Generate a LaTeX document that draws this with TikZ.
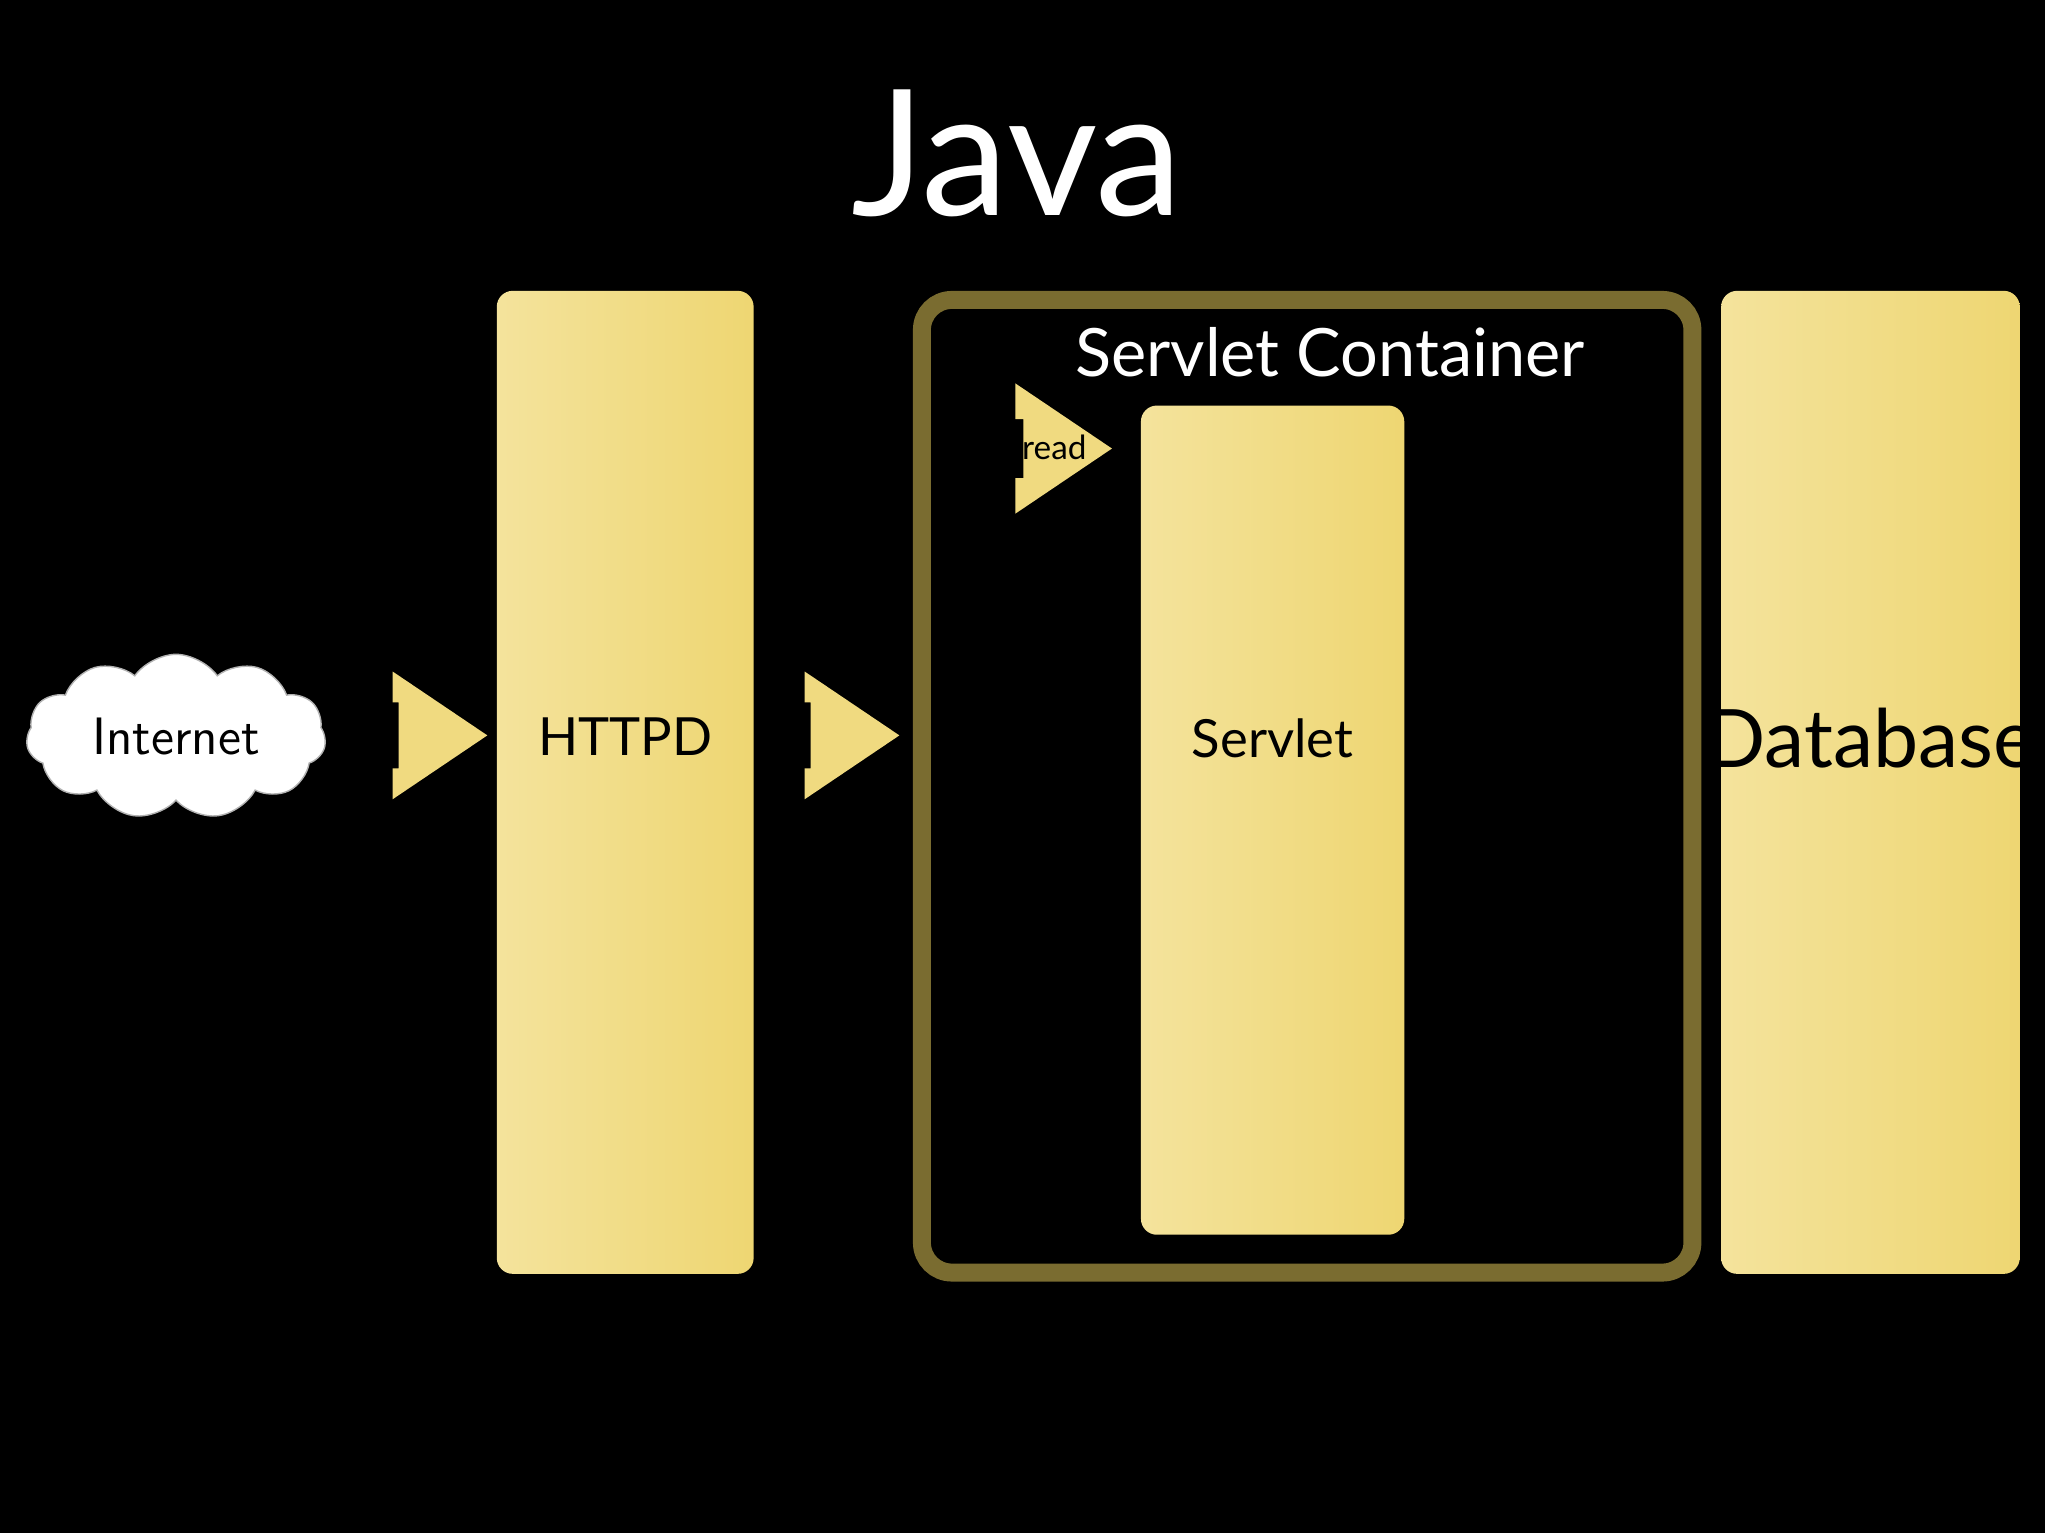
\documentclass[tikz,border=0pt]{standalone}
\usepackage{fontspec}
\setmainfont{Lato}
\usetikzlibrary{shapes.symbols,shapes.arrows}
\definecolor{boxlight}{HTML}{F4E39C}
\definecolor{boxdark}{HTML}{EED672}
\definecolor{olive}{HTML}{7A6C30}
\begin{document}
\begin{tikzpicture}[x=0.01306cm,y=-0.01306cm,
  tier/.style={rectangle,rounded corners=0.16cm,left color=boxlight,right color=boxdark,draw=none,text=black},
  flow/.style={single arrow,fill=boxdark!90!white,draw=none,inner sep=0pt,single arrow tip angle=68,shape border rotate=0}]
\fill[black] (0,0) rectangle (1568,1176);
\node[text=white,font=\fontsize{50}{50}\selectfont] (java) at (780,118) {Java};
% tiers
\node[tier,minimum width=2.573cm,minimum height=9.847cm,font=\fontsize{15}{15}\selectfont] (httpd) at (479.5,600) {};
\node[font=\fontsize{15}{15}\selectfont] (httpdlbl) at (479.5,565) {HTTPD};
\node[draw=olive,line width=0.18cm,rounded corners=0.3cm,minimum width=7.718cm,minimum height=9.743cm] (container) at (1002.5,603) {};
\node[text=white,font=\fontsize{19}{19}\selectfont] (containerlbl) at (1020,270) {Servlet Container};
\node[tier,minimum width=2.638cm,minimum height=8.306cm] (servlet) at (976,629) {};
\node[font=\fontsize{15}{15}\selectfont] (servletlbl) at (976,566) {Servlet};
\node[tier,minimum width=2.991cm,minimum height=9.847cm] (db) at (1434.5,600) {};
\node[font=\fontsize{23}{23}\selectfont] (dblbl) at (1434.5,566) {Database};
% internet
\node[cloud,cloud puffs=11,cloud puff arc=110,aspect=2.2,fill=white,draw=gray!60,minimum width=3.0cm,minimum height=1.65cm,font=\fontsize{15}{15}\selectfont\sffamily] (net) at (135,565) {Internet};
% arrows
\node[flow,minimum width=1.28cm,minimum height=0.888cm,text height=0pt,text depth=0pt,inner ysep=0.26cm] (a1) at (321,564) {};
\node[flow,minimum width=1.28cm,minimum height=0.888cm,text height=0pt,text depth=0pt,inner ysep=0.26cm] (a2) at (637,564) {};
\node[flow,minimum width=1.306cm,minimum height=0.888cm,text height=0pt,text depth=0pt,inner ysep=0.2cm] (a3) at (802,344) {};
\node[font=\fontsize{9.5}{9.5}\selectfont,text=black] (threadlbl) at (794,343) {Thread};
\end{tikzpicture}
\end{document}
